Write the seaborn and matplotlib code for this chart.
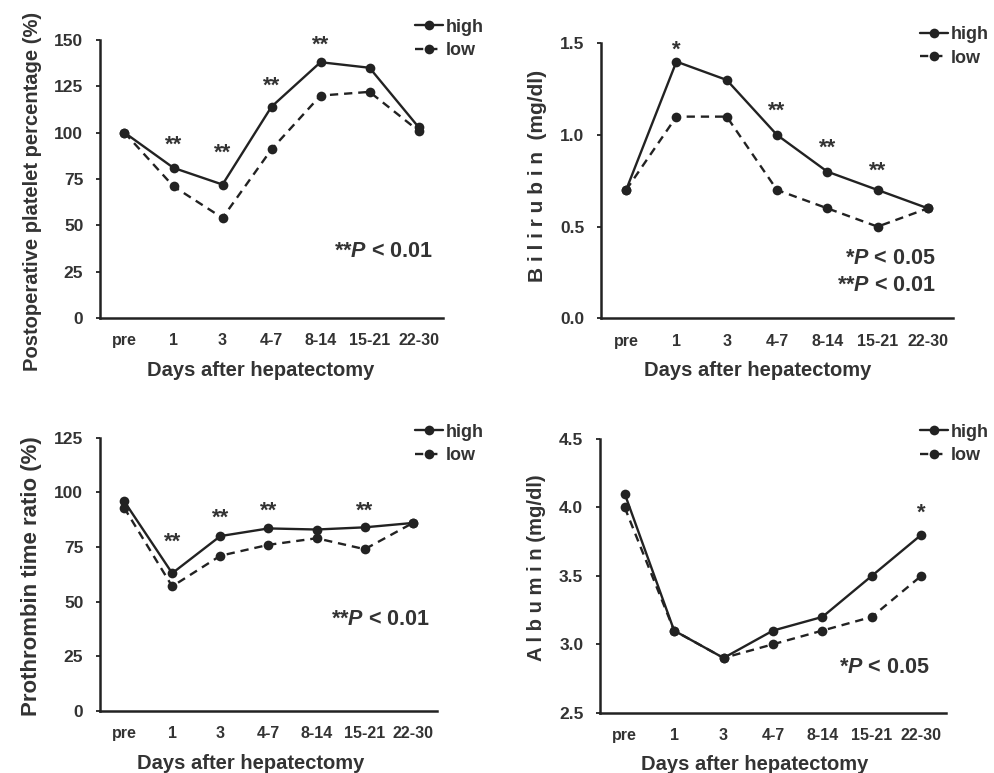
import numpy as np
import pandas as pd
import matplotlib
matplotlib.use("Agg")
import matplotlib.pyplot as plt
import seaborn as sns

sns.set_style("white")
plt.rcParams['font.family'] = ['Liberation Sans', 'DejaVu Sans']
plt.rcParams['mathtext.fontset'] = 'custom'
plt.rcParams['mathtext.rm'] = 'Liberation Sans:bold'
plt.rcParams['mathtext.bf'] = 'Liberation Sans:bold'
plt.rcParams['mathtext.it'] = 'Liberation Sans:italic:bold'
plt.rcParams['mathtext.bfit'] = 'Liberation Sans:italic:bold'

TXT = '#333333'
LINE = '#222222'

days = ["pre", "1", "3", "4-7", "8-14", "15-21", "22-30"]

platelet_high = [100, 81, 72, 114, 138, 135, 103]
platelet_low = [100, 71, 54, 91, 120, 122, 101]
platelet_star_days = ["1", "3", "4-7", "8-14"]
platelet_star_y = [93, 89, 125, 147]
platelet_star_txt = ["**", "**", "**", "**"]

bili_high = [0.7, 1.4, 1.3, 1.0, 0.8, 0.7, 0.6]
bili_low = [0.7, 1.1, 1.1, 0.7, 0.6, 0.5, 0.6]
bili_star_days = ["1", "4-7", "8-14", "15-21"]
bili_star_y = [1.46, 1.13, 0.93, 0.80]
bili_star_txt = ["*", "**", "**", "**"]

pt_high = [96, 63, 80, 83.5, 83, 84, 86]
pt_low = [93, 57, 71, 76, 79, 74, 86]
pt_star_days = ["1", "3", "4-7", "15-21"]
pt_star_y = [77, 88, 91.5, 91.5]
pt_star_txt = ["**", "**", "**", "**"]

alb_high = [4.1, 3.1, 2.9, 3.1, 3.2, 3.5, 3.8]
alb_low = [4.0, 3.1, 2.9, 3.0, 3.1, 3.2, 3.5]
alb_star_days = ["22-30"]
alb_star_y = [3.96]
alb_star_txt = ["*"]

panels = [
    dict(high=platelet_high, low=platelet_low, ylim=(0, 150), yticks=[0, 25, 50, 75, 100, 125, 150],
         yfmt="{:.0f}", ylabel="Postoperative platelet percentage (%)", ylabsize=14.5,
         sd=platelet_star_days, sy=platelet_star_y, st=platelet_star_txt,
         ptext=[r"**$P$ < 0.01"], ylab_y=0.455, xlab_x=0.469,
         rect=[0.1006, 0.5886, 0.3451, 0.3597], leg=(0.418, 0.976), ptxy=(0.435, 0.674)),
    dict(high=bili_high, low=bili_low, ylim=(0, 1.5), yticks=[0.0, 0.5, 1.0, 1.5],
         yfmt="{:.1f}", ylabel="B i l i r u b i n  (mg/dl)", ylabsize=15,
         sd=bili_star_days, sy=bili_star_y, st=bili_star_txt,
         ptext=[r"*$P$ < 0.05", r"**$P$ < 0.01"], ylab_y=0.517, xlab_x=0.446,
         rect=[0.6046, 0.5882, 0.3542, 0.3558], leg=(0.926, 0.966), ptxy=(0.941, 0.665)),
    dict(high=pt_high, low=pt_low, ylim=(0, 125), yticks=[0, 25, 50, 75, 100, 125],
         yfmt="{:.0f}", ylabel="Prothrombin time ratio (%)", ylabsize=16,
         sd=pt_star_days, sy=pt_star_y, st=pt_star_txt,
         ptext=[r"**$P$ < 0.01"], ylab_y=0.492, xlab_x=0.448,
         rect=[0.1006, 0.0802, 0.3390, 0.3536], leg=(0.418, 0.452), ptxy=(0.432, 0.199)),
    dict(high=alb_high, low=alb_low, ylim=(2.5, 4.5), yticks=[2.5, 3.0, 3.5, 4.0, 4.5],
         yfmt="{:.1f}", ylabel="A l b u m i n (mg/dl)", ylabsize=14.6,
         sd=alb_star_days, sy=alb_star_y, st=alb_star_txt,
         ptext=[r"*$P$ < 0.05"], ylab_y=0.53, xlab_x=0.448,
         rect=[0.6036, 0.0780, 0.3481, 0.3541], leg=(0.926, 0.452), ptxy=(0.935, 0.136)),
]

fig = plt.figure(figsize=(9.94, 7.73), dpi=100)

for p in panels:
    ax = fig.add_axes(p['rect'])
    df = pd.DataFrame({
        'day': list(range(len(days))) * 2,
        'value': p['high'] + p['low'],
        'group': ['high'] * len(days) + ['low'] * len(days),
    })
    sns.lineplot(data=df[df.group == 'high'], x='day', y='value', ax=ax, color=LINE,
                 marker='o', markersize=7, markeredgewidth=0, linewidth=1.7, label='high')
    sns.lineplot(data=df[df.group == 'low'], x='day', y='value', ax=ax, color=LINE,
                 marker='o', markersize=7, markeredgewidth=0, linewidth=1.7,
                 linestyle=(0, (3.5, 2.5)), label='low')
    ax.set_xlim(-0.5, len(days) - 0.5)
    ax.set_ylim(*p['ylim'])
    ax.set_xticks(range(len(days)))
    ax.set_xticklabels(days, fontsize=11.5, fontweight='bold', color=TXT)
    ax.set_xticks(np.arange(-0.5, len(days), 1.0), minor=True)
    ax.tick_params(axis='x', which='major', length=0, pad=11)
    ax.tick_params(axis='x', which='minor', length=3, width=1.3, color=LINE, direction='out')
    ax.set_yticks(p['yticks'])
    ax.set_yticklabels([p['yfmt'].format(v) for v in p['yticks']], fontsize=12.5,
                       fontweight='bold', color=TXT)
    ax.tick_params(axis='y', length=3, width=1.3, color=LINE, direction='out', pad=9, left=True)
    for s in ['top', 'right']:
        ax.spines[s].set_visible(False)
    for s in ['left', 'bottom']:
        ax.spines[s].set_color(LINE)
        ax.spines[s].set_linewidth(1.8)
    ax.set_xlabel("Days after hepatectomy", fontsize=14.5, fontweight='bold', color=TXT, labelpad=9)
    ax.set_ylabel(p['ylabel'], fontsize=p['ylabsize'], fontweight='bold', color=TXT, labelpad=9)
    ax.xaxis.label.set_x(p['xlab_x'])
    ax.yaxis.label.set_y(p['ylab_y'])
    for d, y, t in zip(p['sd'], p['sy'], p['st']):
        ax.text(days.index(d), y, t, ha='center', va='center', fontsize=16,
                fontweight='bold', color=TXT)
    for i, t in enumerate(p['ptext']):
        fig.text(p['ptxy'][0], p['ptxy'][1] - i * 0.034, t, ha='right', va='center',
                 fontsize=15.5, fontweight='bold', color=TXT)
    handles, labels = ax.get_legend_handles_labels()
    ax.legend(handles, labels, loc='upper left', bbox_to_anchor=p['leg'],
              bbox_transform=fig.transFigure, frameon=False,
              handlelength=1.5, handletextpad=0.2, labelspacing=0.35,
              borderpad=0, borderaxespad=0, labelcolor=TXT,
              prop={'weight': 'bold', 'size': 13})

fig.savefig("out.png", dpi=100)
